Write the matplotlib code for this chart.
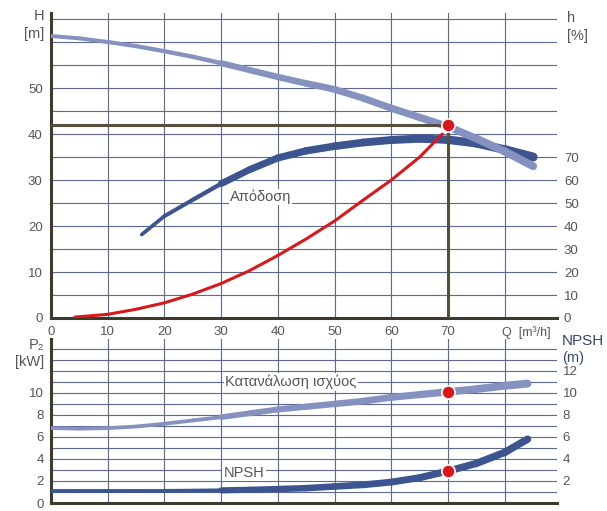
import numpy as np
import matplotlib
matplotlib.use('Agg')
import matplotlib.pyplot as plt
from matplotlib.collections import LineCollection
from matplotlib.transforms import Affine2D

plt.rcParams['font.family'] = ['Liberation Sans', 'DejaVu Sans']

# pump head curve H [m] vs Q [m3/h]
q_head = [0, 5, 10, 15, 20, 25, 30, 35, 40, 45, 50, 55, 60, 65, 70, 75, 80, 85]
head = [61.3, 60.8, 60.0, 59.1, 58.0, 56.8, 55.4, 53.9, 52.4, 51.0, 49.7, 47.8,
        45.6, 43.6, 41.6, 39.0, 36.2, 33.0]

# efficiency (Απόδοση) [%]
q_eff = [16, 20, 25, 30, 35, 40, 45, 50, 55, 60, 65, 70, 75, 80, 85]
eff = [36.3, 44.3, 51.4, 58.4, 64.5, 69.6, 72.7, 74.7, 76.3, 77.4, 78.0, 77.5,
       76.0, 73.2, 70.0]

# system curve (red) H [m]
q_sys = [4.2, 10, 15, 20, 25, 30, 35, 40, 45, 50, 55, 60, 65, 69]
h_sys = [0.2, 0.8, 1.9, 3.3, 5.2, 7.5, 10.3, 13.6, 17.2, 21.1, 25.6, 30.0, 35.0, 40.0]

# lower chart: power P2 [kW] and NPSH [m]
q_low = [0, 5, 10, 15, 20, 25, 30, 35, 40, 45, 50, 55, 60, 65, 70, 75, 80, 84]
power = [6.8, 6.75, 6.8, 6.95, 7.2, 7.5, 7.8, 8.15, 8.5, 8.75, 9.0, 9.25, 9.6,
         9.85, 10.1, 10.35, 10.65, 10.85]
npsh = [1.1, 1.1, 1.1, 1.1, 1.1, 1.12, 1.15, 1.2, 1.27, 1.35, 1.5, 1.65, 1.9,
        2.3, 2.9, 3.6, 4.6, 5.8]

# operating point
q_op, h_op, p_op, npsh_op = 70, 42, 10.1, 2.9

x_ticks = [0, 10, 20, 30, 40, 50, 60, 70]
h_ticks = [0, 10, 20, 30, 40, 50]
eff_ticks = [0, 10, 20, 30, 40, 50, 60, 70]
p_ticks = [0, 2, 4, 6, 8, 10]
npsh_ticks = [2, 4, 6, 8, 10, 12]

LIGHT = '#8592c0'
DARK = '#3c5590'
RED = '#d8181a'
OLIVE = '#55503d'
SPINE = '#3d3a2c'
GRID = '#5b6890'
TXT = '#555555'

W, H = 607, 511
XMAX = 89.2


def band(ax, q, v, wq, ww, color, zorder, transform=None):
    # thick curve whose width changes along Q
    pts = np.column_stack([q, v])
    segs = np.stack([pts[:-1], pts[1:]], axis=1)
    mid = (np.asarray(q[:-1]) + np.asarray(q[1:])) / 2
    widths = np.interp(mid, wq, ww)
    lc = LineCollection(segs, linewidths=widths, colors=color,
                        capstyle='round', joinstyle='round', zorder=zorder)
    if transform is not None:
        lc.set_transform(transform)
    ax.add_collection(lc)


def style(ax):
    for s in ['top', 'right']:
        ax.spines[s].set_visible(False)
    for s in ['left', 'bottom']:
        ax.spines[s].set_color(SPINE)
        ax.spines[s].set_linewidth(2.2)
    ax.set_axisbelow(True)
    ax.tick_params(which='both', length=0, colors=TXT, labelsize=9.5)
    ax.grid(which='both', color=GRID, linewidth=0.8)


fig = plt.figure(figsize=(W / 100, H / 100), dpi=100)
ax1 = fig.add_axes([51 / W, 1 - 318 / H, 506 / W, (318 - 13.5) / H])
ax2 = fig.add_axes([51 / W, 1 - 503 / H, 506 / W, (503 - 339) / H])

# ---- top chart ----
ax1.set_xlim(0, XMAX)
ax1.set_ylim(0, 66.2)
ax1.set_xticks(x_ticks)
ax1.set_xticks([80], minor=True)
ax1.set_yticks(h_ticks)
ax1.set_yticks(np.arange(5, 66, 5), minor=True)
style(ax1)
ax1.tick_params(axis='x', pad=6)
ax1.tick_params(axis='y', pad=6)

eff_tr = Affine2D().scale(1, 0.5) + ax1.transData
band(ax1, q_eff, eff, [16, 29.9, 30.1, 85], [2.6, 3.2, 4.8, 6.5], DARK, 3, eff_tr)
band(ax1, q_head, head, [0, 27.9, 28.1, 85], [2.8, 3.2, 4.3, 5.8], LIGHT, 4)
ax1.plot(q_sys, h_sys, color=RED, lw=2.2, zorder=5, solid_capstyle='round')
ax1.plot([0, q_op], [h_op, h_op], color=OLIVE, lw=2.2, zorder=5)
ax1.plot([q_op, q_op], [0, h_op], color=OLIVE, lw=2.2, zorder=5)
ax1.plot(q_op, h_op, 'o', ms=9.5, mfc=RED, mec='white', mew=1.2, zorder=7)
ax1.text(36.9, 26.3, 'Απόδοση', fontsize=10.5, color=TXT, ha='center', va='center',
         zorder=6, bbox=dict(facecolor='white', edgecolor='none', pad=0.5))

ax1r = ax1.twinx()
ax1r.set_ylim(0, 132.4)
ax1r.set_yticks(eff_ticks)
for s in ax1r.spines.values():
    s.set_visible(False)
ax1r.tick_params(length=0, colors=TXT, labelsize=9.5, pad=5)

# ---- bottom chart ----
ax2.set_xlim(0, XMAX)
ax2.set_ylim(0, 14.9)
ax2.set_xticks(x_ticks)
ax2.set_xticks([80], minor=True)
ax2.set_yticks(p_ticks)
ax2.set_yticks(np.arange(1, 15, 1), minor=True)
style(ax2)
ax2.tick_params(axis='x', labelbottom=False)
ax2.tick_params(axis='y', pad=5)

band(ax2, q_low, power, [0, 29.9, 30.1, 84], [2.6, 2.8, 4.0, 5.8], LIGHT, 3)
band(ax2, q_low, npsh, [0, 29.9, 30.1, 84], [2.8, 2.8, 4.4, 5.4], DARK, 3)
ax2.plot([q_op, q_op], [p_op, npsh_op], 'o', ms=9.5, mfc=RED, mec='white', mew=1.2,
         zorder=7)
ax2.text(42.3, 11.0, 'Κατανάλωση ισχύος', fontsize=10.5, color=TXT, ha='center',
         va='center', zorder=6, bbox=dict(facecolor='white', edgecolor='none', pad=1))
ax2.text(34.0, 2.75, 'NPSH', fontsize=10.5, color=TXT, ha='center', va='center',
         zorder=6, bbox=dict(facecolor='white', edgecolor='none', pad=1))

ax2r = ax2.twinx()
ax2r.set_ylim(0, 14.9)
ax2r.set_yticks(npsh_ticks)
for s in ax2r.spines.values():
    s.set_visible(False)
ax2r.tick_params(length=0, colors=TXT, labelsize=9.5, pad=4)

# ---- axis titles ----
def ftext(x, y, s, **kw):
    fig.text(x / W, 1 - y / H, s, va='center', **kw)

ftext(44, 16, 'H', ha='right', fontsize=10.5, color=TXT)
ftext(44, 34, '[m]', ha='right', fontsize=10.5, color=TXT)
ftext(567, 18, 'h', ha='left', fontsize=10.5, color=TXT)
ftext(567, 36, '[%]', ha='left', fontsize=10.5, color=TXT)
ftext(44, 345, 'P₂', ha='right', fontsize=10.5, color=TXT)
ftext(44, 362, '[kW]', ha='right', fontsize=10.5, color=TXT)
ftext(562, 341, 'NPSH', ha='left', fontsize=11, color='#34466f')
ftext(562, 358, '(m)', ha='left', fontsize=10.5, color='#34466f')
ftext(502, 333, 'Q  [m³/h]', ha='left', fontsize=9, color=TXT)

fig.savefig('out.png', dpi=100, facecolor='white')
